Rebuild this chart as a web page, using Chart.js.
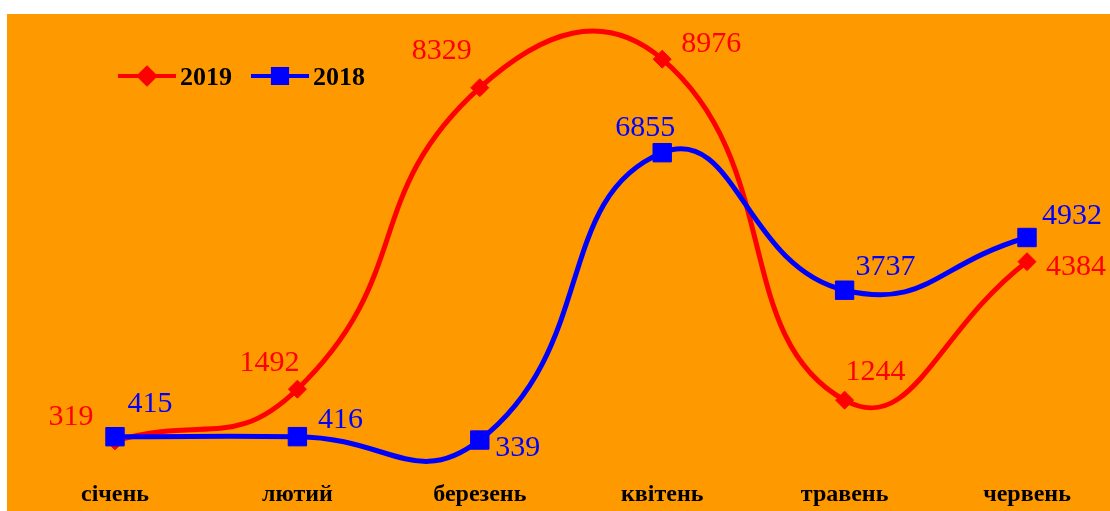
<!DOCTYPE html>
<html>
<head>
<meta charset="utf-8">
<script src="https://cdn.jsdelivr.net/npm/chart.js@4.4.0/dist/chart.umd.min.js"></script>
<style>
  html, body { margin: 0; padding: 0; background: #fff; }
  #box { position: absolute; left: 7px; top: 14px; width: 1103px; height: 497px; background: #ff9900; }
</style>
</head>
<body>
<div id="box"><canvas id="chart" width="1103" height="497"></canvas></div>
<script>
// months and sales by year
const months = ['січень', 'лютий', 'березень', 'квітень', 'травень', 'червень'];
const values2019 = [319, 1492, 8329, 8976, 1244, 4384];
const values2018 = [415, 416, 339, 6855, 3737, 4932];

// where each value label sits relative to its point (dx, dy to baseline centre)
const labelShift2019 = [[-44, -16], [-28, -18], [-38, -29], [49, -7], [31, -20], [49, 13]];
const labelShift2018 = [[35, -25], [43, -9], [38, 16], [-17, -17], [41, -15], [45, -13]];

const serif = '"Liberation Serif", "Times New Roman", serif';

const valueLabels = {
    id: 'valueLabels',
    afterDatasetsDraw(chart) {
        const ctx = chart.ctx;
        ctx.save();
        ctx.font = '30px ' + serif;
        ctx.textAlign = 'center';
        ctx.textBaseline = 'alphabetic';
        chart.data.datasets.forEach((ds, i) => {
            const meta = chart.getDatasetMeta(i);
            ctx.fillStyle = ds.borderColor;
            meta.data.forEach((pt, j) => {
                const s = ds.labelShift[j];
                ctx.fillText(ds.data[j], pt.x + s[0], pt.y + s[1]);
            });
        });
        ctx.restore();
    }
};

// excel-like legend: short line with the marker in the middle
const lineLegend = {
    id: 'lineLegend',
    afterDraw(chart) {
        const ctx = chart.ctx;
        const area = chart.chartArea;
        let x = area.left + 3;
        const y = area.top + 62;
        ctx.save();
        ctx.font = 'bold 26px ' + serif;
        ctx.textBaseline = 'middle';
        chart.data.datasets.forEach((ds) => {
            ctx.strokeStyle = ds.borderColor;
            ctx.lineWidth = 4;
            ctx.beginPath();
            ctx.moveTo(x, y);
            ctx.lineTo(x + 58, y);
            ctx.stroke();
            ctx.fillStyle = ds.borderColor;
            Chart.helpers.drawPoint(ctx, {
                pointStyle: ds.pointStyle,
                radius: ds.pointStyle === 'rect' ? 10 : 8,
                borderWidth: 1
            }, x + 29, y);
            ctx.fillStyle = '#000';
            ctx.fillText(ds.label, x + 62, y + 2);
            x += 62 + ctx.measureText(ds.label).width + 19;
        });
        ctx.restore();
    }
};

const data = {
    labels: months,
    datasets: [{
            label: '2019',
            data: values2019,
            labelShift: labelShift2019,
            borderColor: '#ff0000',
            backgroundColor: '#ff0000',
            borderWidth: 5,
            pointStyle: 'rectRot',
            pointRadius: 9,
            pointBorderWidth: 1,
            tension: 0.5,
            clip: false,
            order: 1
        }, {
            label: '2018',
            data: values2018,
            labelShift: labelShift2018,
            borderColor: '#0000ff',
            backgroundColor: '#0000ff',
            borderWidth: 5,
            pointStyle: 'rect',
            pointRadius: 13,
            pointBorderWidth: 1,
            tension: 0.5,
            clip: false,
            order: 0
        }]
};

const config = {
    type: 'line',
    data: data,
    options: {
        responsive: false,
        animation: false,
        elements: { line: { capBezierPoints: false } },
        layout: { autoPadding: false, padding: { left: 108, right: 83, top: 0, bottom: 2 } },
        plugins: {
            legend: { display: false },
            tooltip: { enabled: false }
        },
        scales: {
            x: {
                offset: false,
                grid: { display: false, drawTicks: false },
                border: { display: false },
                afterFit(scale) {
                    scale.height = 54;
                },
                ticks: {
                    color: '#000',
                    padding: 25,
                    maxRotation: 0,
                    font: { family: serif, size: 24, weight: 'bold' }
                }
            },
            y: {
                display: false,
                min: 0,
                max: 10000
            }
        }
    },
    plugins: [valueLabels, lineLegend]
};

let ctx = document.getElementById('chart').getContext('2d');
new Chart(ctx, config);
</script>
</body>
</html>
